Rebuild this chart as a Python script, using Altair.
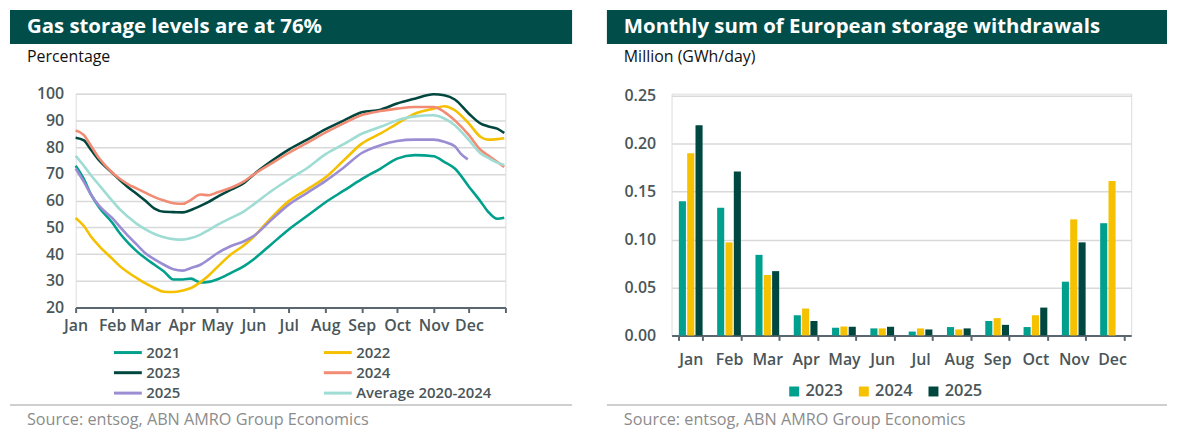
import altair as alt
import pandas as pd

FONT = "Open Sans"
AXIS_COLOR = "#4a5659"
DOMAIN_COLOR = "#5b6770"
GRID_COLOR = "#d9d9d9"
BAR_BG = "#004d4a"
SOURCE_COLOR = "#8c8c8c"

# ---------------- Left chart data (day of year -> storage %) ----------------
left_title = "Gas storage levels are at 76%"
left_sub = "Percentage"
source = "Source: entsog, ABN AMRO Group Economics"

month_names = ["Jan", "Feb", "Mar", "Apr", "May", "Jun", "Jul", "Aug", "Sep", "Oct", "Nov", "Dec"]
month_starts = [0, 31, 59, 90, 120, 151, 181, 212, 243, 273, 304, 334, 365]

days = [0, 7, 13, 20, 31, 38, 45, 52, 59, 67, 75, 83, 91, 98, 106, 113, 120, 132, 143, 151,
        166, 181, 197, 212, 228, 243, 259, 273, 288, 304, 313, 322, 334, 344, 350, 358, 364]
days_2025 = [0, 7, 13, 20, 31, 38, 45, 52, 59, 67, 75, 83, 91, 98, 106, 113, 120, 132, 143, 151,
             166, 181, 197, 212, 228, 243, 259, 273, 288, 304, 313, 322, 327, 333]

s2021 = [73, 68, 62.3, 57.4, 51.8, 47.5, 44, 41, 38.5, 36, 33.5, 30.5, 30.5, 30.8, 29.4, 29.6, 30.5, 33, 35.5, 38,
         43.6, 49.2, 54.4, 59.3, 63.8, 68, 72, 75.7, 77, 76.6, 74.5, 72, 65.2, 59.6, 56, 53.2, 53.6]
s2022 = [53.5, 50.5, 46.6, 43, 38.3, 35.3, 33, 31, 29.1, 27.3, 25.9, 25.8, 26.4, 27.3, 29.5, 32, 35, 39.9, 43.3, 46.4,
         53.5, 59.8, 64.3, 68.6, 75.2, 81.3, 85.1, 88.8, 92.5, 94.4, 95.3, 93.8, 88.8, 83.8, 82.8, 83, 83.3]
s2023 = [83.5, 82.5, 79, 75, 70.4, 67.5, 64.8, 62.5, 60, 57, 55.8, 55.7, 55.6, 56.5, 58, 59.5, 61.3, 64.1, 66.6, 69.7,
         74.7, 79.1, 82.9, 86.6, 90, 93, 94, 96.3, 98.1, 99.8, 99.4, 97.8, 92.5, 88.8, 87.8, 86.9, 85.3]
s2024 = [86.2, 84.5, 80.5, 75.8, 70.5, 68, 66, 64.5, 63, 61.3, 60, 59, 58.8, 60.3, 62.3, 62, 63, 64.8, 67.2, 69.7,
         73.8, 77.8, 81.7, 85.4, 89, 92, 93.5, 94.4, 95, 95, 93.2, 90, 84.5, 78.9, 77, 74.5, 72.6]
s2025 = [72, 67, 62.3, 58, 53.5, 50, 46.6, 43.5, 40.4, 38, 36, 34.3, 33.8, 34.8, 36, 38, 40.2, 43, 44.8, 46.7,
         52.7, 58.5, 63, 67.3, 72.5, 77.8, 80.7, 82.3, 82.8, 82.8, 82, 80.3, 77.6, 75.4]
s_avg = [76.7, 73, 69.5, 65.8, 60, 56.5, 53.8, 51.3, 49.3, 47.5, 46.3, 45.6, 45.4, 46, 47.3, 49, 50.8, 53.5, 56, 58.5,
         63.5, 67.9, 72.3, 77.3, 81.2, 85, 87.6, 90, 91.5, 91.9, 90.7, 88.2, 82.6, 77.6, 76.1, 74.2, 73.3]

series_names = ["2021", "2022", "2023", "2024", "2025", "Average 2020-2024"]
series_colors = ["#00a08c", "#f5c000", "#00473f", "#f28b74", "#9b8dd3", "#9edcd4"]

rows = []
for name, d_list, v_list in [("2021", days, s2021), ("2022", days, s2022), ("2023", days, s2023),
                             ("2024", days, s2024), ("2025", days_2025, s2025),
                             ("Average 2020-2024", days, s_avg)]:
    for d, v in zip(d_list, v_list):
        rows.append({"day": d, "value": v, "series": name})
line_df = pd.DataFrame(rows)

label_expr = " : ".join(f"datum.value == {d} ? '{m}'" for d, m in zip(month_starts[:-1], month_names)) + " : ''"

# ---------------- Right chart data ----------------
right_title = "Monthly sum of European storage withdrawals"
right_sub = "Million (GWh/day)"
years = ["2023", "2024", "2025"]
year_colors = ["#00a08f", "#f5c100", "#00473f"]
w2023 = [0.140, 0.133, 0.084, 0.021, 0.008, 0.0073, 0.004, 0.0087, 0.015, 0.0087, 0.056, 0.117]
w2024 = [0.190, 0.097, 0.063, 0.028, 0.0093, 0.0073, 0.0073, 0.0062, 0.018, 0.021, 0.121, 0.161]
w2025 = [0.219, 0.171, 0.067, 0.015, 0.009, 0.009, 0.0062, 0.0073, 0.011, 0.029, 0.097, None]
y_ticks_right = [0, 0.05, 0.10, 0.15, 0.20, 0.25]

brows = []
for y, vals in zip(years, [w2023, w2024, w2025]):
    for m, v in zip(month_names, vals):
        if v is not None:
            brows.append({"month": m, "year": y, "value": v})
bar_df = pd.DataFrame(brows)

axis_common = dict(labelFont=FONT, labelFontSize=16, labelFontWeight=600, labelColor=AXIS_COLOR, title=None)


def decorations(title, sub, left, right, top, sub_y, sep_y, src_y, text_x):
    one = pd.DataFrame({"t": [title], "s": [sub], "src": [source]})
    base = alt.Chart(one)
    rect = base.mark_rect(color=BAR_BG).encode(
        x=alt.value(left), x2=alt.value(right), y=alt.value(top), y2=alt.value(top + 34))
    ttl = base.mark_text(align="left", baseline="middle", font=FONT, fontSize=20.5, fontWeight="bold",
                         color="white").encode(x=alt.value(text_x), y=alt.value(top + 17), text="t:N")
    subt = base.mark_text(align="left", baseline="middle", font=FONT, fontSize=16, color="#111111").encode(
        x=alt.value(text_x), y=alt.value(sub_y), text="s:N")
    sep = base.mark_rule(color="#cfcfcf", strokeWidth=2).encode(
        x=alt.value(left), x2=alt.value(right), y=alt.value(sep_y))
    src = base.mark_text(align="left", baseline="middle", font=FONT, fontSize=16.3, color=SOURCE_COLOR).encode(
        x=alt.value(text_x), y=alt.value(src_y), text="src:N")
    return [rect, ttl, subt, sep, src]


# ---------------- Left panel ----------------
W1, H1 = 432, 215
lines = alt.Chart(line_df).mark_line(strokeWidth=2.6, interpolate="monotone").encode(
    x=alt.X("day:Q", scale=alt.Scale(domain=[0, 365], nice=False, zero=False),
            axis=alt.Axis(values=month_starts, labelExpr=label_expr, grid=False, domainColor=DOMAIN_COLOR,
                          domainWidth=2, tickColor=DOMAIN_COLOR, tickWidth=2, tickSize=5, labelPadding=5,
                          labelFlush=False, labelOverlap=False, **axis_common)),
    y=alt.Y("value:Q", scale=alt.Scale(domain=[20, 100], nice=False, zero=False),
            axis=alt.Axis(values=list(range(20, 101, 10)), grid=True, gridColor=GRID_COLOR, gridWidth=1.5,
                          domain=False, ticks=False, labelPadding=12, **axis_common)),
    color=alt.Color("series:N", sort=series_names,
                    scale=alt.Scale(domain=series_names, range=series_colors),
                    legend=alt.Legend(orient="none", legendX=44, legendY=251.5, columns=2, direction="horizontal",
                                      columnPadding=137, rowPadding=3.5, symbolType="M-2,0H2", symbolSize=196,
                                      symbolStrokeWidth=3, labelOffset=10, labelFont=FONT, labelFontSize=15,
                                      labelFontWeight=600, labelColor=AXIS_COLOR, title=None)),
)
left = alt.layer(lines, *decorations(left_title, left_sub, -66, 499, -84, -37, 313, 328, -49)).properties(
    width=W1, height=H1)

# ---------------- Right panel ----------------
W2, H2 = 462, 243
bars = alt.Chart(bar_df).mark_bar().encode(
    x=alt.X("month:N", sort=month_names, scale=alt.Scale(paddingInner=0.38, paddingOuter=0.19),
            axis=alt.Axis(tickBand="extent", labelAngle=0, domainColor=DOMAIN_COLOR, domainWidth=2,
                          tickColor=DOMAIN_COLOR, tickWidth=2, tickSize=5, labelPadding=11, **axis_common)),
    xOffset=alt.XOffset("year:N", sort=years, scale=alt.Scale(paddingInner=0.15)),
    y=alt.Y("value:Q", scale=alt.Scale(domain=[0, 0.25 * 243 / 241], nice=False),
            axis=alt.Axis(values=y_ticks_right, format=".2f", grid=True, gridColor=GRID_COLOR,
                          gridWidth=1.5, domain=False, ticks=False, labelPadding=16, **axis_common)),
    color=alt.Color("year:N", sort=years, scale=alt.Scale(domain=years, range=year_colors),
                    legend=alt.Legend(orient="none", legendX=115, legendY=291, direction="horizontal", columns=3,
                                      columnPadding=12, symbolType="square", symbolSize=100, labelOffset=3,
                                      labelFont=FONT, labelFontSize=16.5, labelFontWeight=600,
                                      labelColor=AXIS_COLOR, title=None)),
)
right = alt.layer(bars, *decorations(right_title, right_sub, -65, 498, -84, -37, 313, 328, -48)).properties(
    width=W2, height=H2)

chart = alt.hconcat(left, right, spacing=31, padding=0).resolve_scale(color="independent").resolve_legend(
    color="independent").configure_view(stroke=None).configure(background="white")

chart.save("out.html", embed_options={"renderer": "svg", "actions": False})
